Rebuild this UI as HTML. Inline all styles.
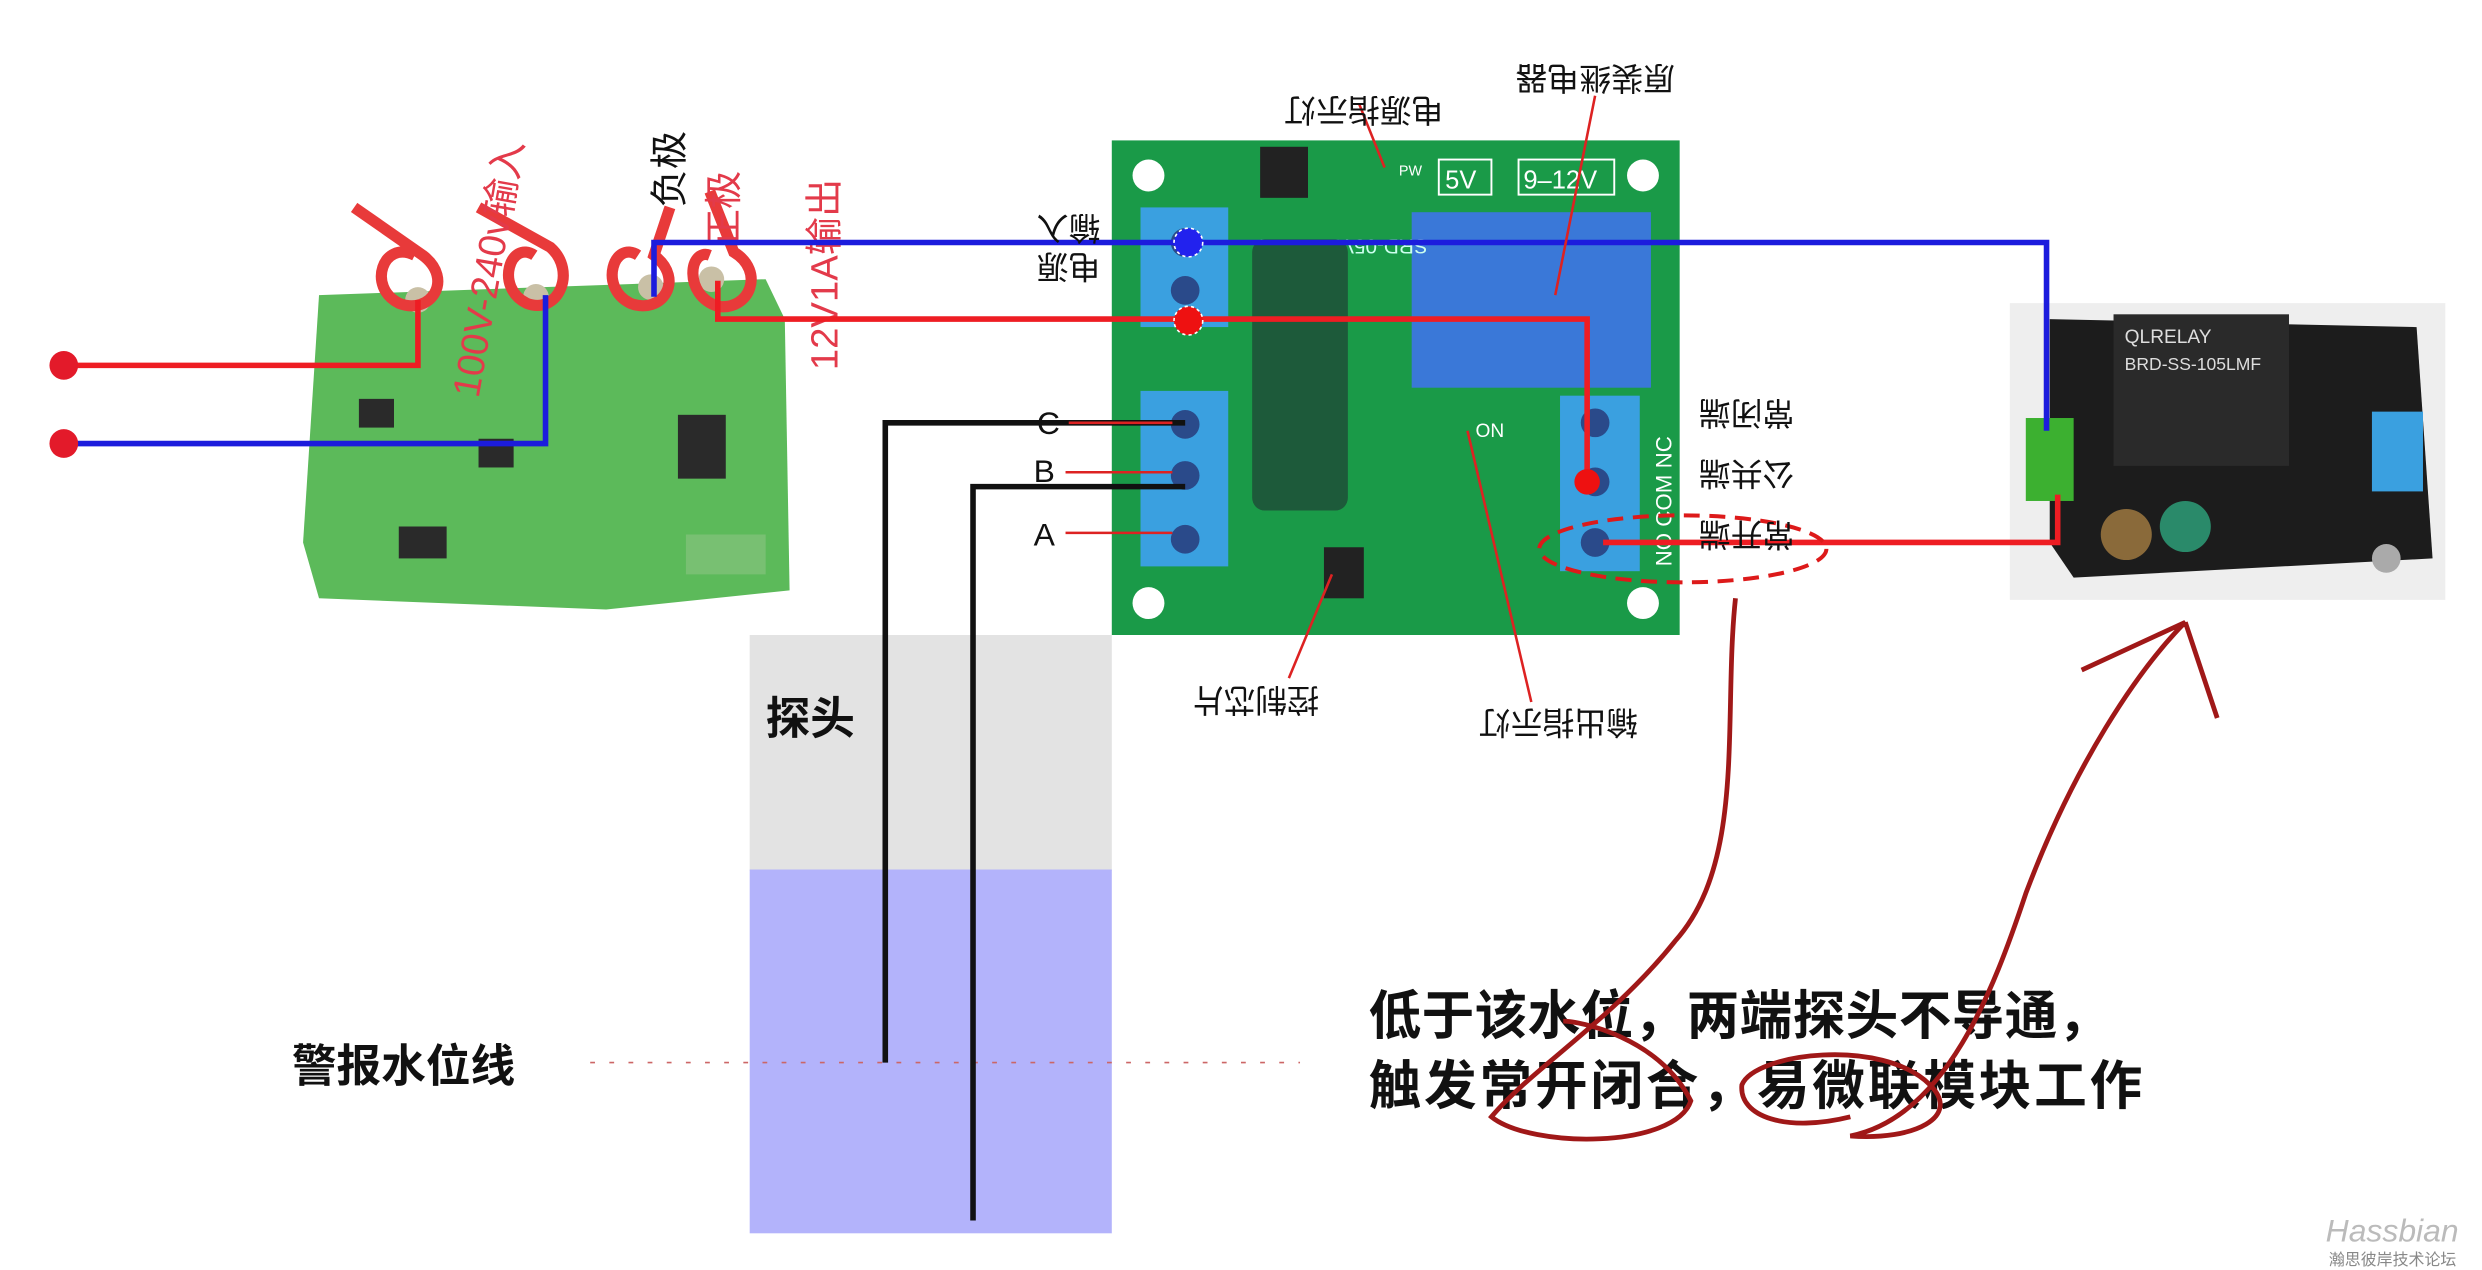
<!DOCTYPE html>
<html><head><meta charset="utf-8"><style>html,body{margin:0;padding:0;background:#fff;overflow:hidden}svg{display:block}</style></head><body>
<svg width="2482" height="1270" viewBox="0 0 1556 796" preserveAspectRatio="none" xmlns="http://www.w3.org/2000/svg" font-family="Liberation Sans, Noto Sans CJK SC, sans-serif">
<rect width="1556" height="796" fill="#fff"/>
<rect x="470" y="398" width="227" height="148" fill="#e3e3e3"/>
<rect x="470" y="545" width="227" height="228" fill="#b3b3fb"/>
<text x="480" y="460" font-size="28" font-weight="bold" fill="#111">探头</text>
<text x="183" y="678" font-size="28" font-weight="bold" fill="#111">警报水位线</text>
<line x1="370" y1="666" x2="815" y2="666" stroke="#c66" stroke-width="1" stroke-dasharray="3,9"/>
<path d="M200 185 L480 175 L492 200 L495 370 L380 382 L200 375 L190 340 Z" fill="#5cba5a"/>
<g fill="#2a2a2a"><rect x="225" y="250" width="22" height="18"/><rect x="300" y="275" width="22" height="18"/><rect x="425" y="260" width="30" height="40"/><rect x="250" y="330" width="30" height="20"/></g>
<g fill="#c9c0a6"><circle cx="262" cy="188" r="8"/><circle cx="336" cy="186" r="8"/><circle cx="408" cy="180" r="8"/><circle cx="446" cy="175" r="8"/><rect x="430" y="335" width="50" height="25" fill="#78c072"/></g>
<g fill="none" stroke="#e83a3a" stroke-width="7">
<path d="M260 160 C240 150 230 180 250 190 C270 198 285 175 265 160 L222 130"/>
<path d="M335 160 C320 150 310 180 330 190 C350 198 362 170 345 155 L300 130"/>
<path d="M400 160 C385 150 375 180 395 190 C415 198 430 175 410 160 L420 130"/>
<path d="M445 160 C432 155 428 185 450 192 C470 195 480 170 460 158 L445 120"/>
</g>
<g fill="#e33a4a" font-size="24">
<text transform="translate(300,250) rotate(-80)">100V-240v输入</text>
<text transform="translate(462,155) rotate(-90)">正极</text>
<text transform="translate(525,232) rotate(-90)">12V1A输出</text>
</g>
<text transform="translate(428,130) rotate(-90)" font-size="24" fill="#111">负极</text>
<rect x="697" y="88" width="356" height="310" fill="#1a9a48"/>
<g fill="#fff"><circle cx="720" cy="110" r="10"/><circle cx="1030" cy="110" r="10"/><circle cx="720" cy="378" r="10"/><circle cx="1030" cy="378" r="10"/></g>
<rect x="885" y="133" width="150" height="110" fill="#3a78d8"/>
<text x="1025" y="150" transform="rotate(180 960 150)" font-size="13" fill="#cfe">SRD-05VDC-SL-C</text>
<rect x="785" y="150" width="60" height="170" rx="8" fill="#1d5a3a"/>
<g fill="#3aa0e0"><rect x="715" y="130" width="55" height="75"/><rect x="715" y="245" width="55" height="110"/><rect x="978" y="248" width="50" height="110"/></g>
<g fill="#2a4a8a"><circle cx="743" cy="152" r="9"/><circle cx="743" cy="182" r="9"/><circle cx="743" cy="266" r="9"/><circle cx="743" cy="298" r="9"/><circle cx="743" cy="338" r="9"/><circle cx="1000" cy="265" r="9"/><circle cx="1000" cy="302" r="9"/><circle cx="1000" cy="340" r="9"/></g>
<rect x="790" y="92" width="30" height="32" fill="#222"/><rect x="830" y="343" width="25" height="32" fill="#222"/>
<g fill="none" stroke="#fff" stroke-width="1.2"><rect x="902" y="100" width="33" height="22"/><rect x="952" y="100" width="60" height="22"/></g>
<text x="906" y="118" font-size="16" fill="#fff">5V</text><text x="955" y="118" font-size="16" fill="#fff">9–12V</text>
<text x="877" y="110" font-size="9" fill="#fff">PW</text><text x="925" y="274" font-size="12" fill="#fff">ON</text>
<text transform="translate(1048,355) rotate(-90)" font-size="14" fill="#fff">NO COM NC</text>
<rect x="1260" y="190" width="273" height="186" fill="#eee"/>
<path d="M1285 200 L1515 205 L1525 350 L1300 362 L1285 340 Z" fill="#1c1c1c"/>
<rect x="1325" y="197" width="110" height="95" fill="#2a2a2a"/>
<text x="1332" y="215" font-size="12" fill="#ddd">QLRELAY</text><text x="1332" y="232" font-size="11" fill="#ddd">BRD-SS-105LMF</text>
<rect x="1270" y="262" width="30" height="52" fill="#3cb030"/><rect x="1487" y="258" width="32" height="50" fill="#3aa0e0"/>
<circle cx="1333" cy="335" r="16" fill="#8a6a3a"/><circle cx="1370" cy="330" r="16" fill="#2a8a6a"/>
<circle cx="1496" cy="350" r="9" fill="#aaa"/>
<g fill="none" stroke-width="3.5">
<path d="M40 229 H262 V188" stroke="#ee1d23"/>
<path d="M40 278 H342 V185" stroke="#1c1cdd"/>
<path d="M410 186 V152 H1283 V270 H1283" stroke="#1c1cdd"/>
<path d="M450 176 V200 H995 V302" stroke="#ee1d23"/>
<path d="M1005 340 H1290 V310" stroke="#ee1d23"/>
<path d="M555 666 V265 H743" stroke="#111"/>
<path d="M610 765 V305 H743" stroke="#111"/>
</g>
<circle cx="40" cy="229" r="9" fill="#e31a2a"/><circle cx="40" cy="278" r="9" fill="#e31a2a"/>
<circle cx="745" cy="152" r="9" fill="#2222ee" stroke="#fff" stroke-dasharray="2,2"/>
<circle cx="745" cy="201" r="9" fill="#ee1111" stroke="#fff" stroke-dasharray="2,2"/>
<circle cx="995" cy="302" r="8" fill="#ee1111"/>
<ellipse cx="1055" cy="344" rx="90" ry="21" fill="none" stroke="#dd1a1a" stroke-width="2.5" stroke-dasharray="10,6"/>
<g stroke="#dd2222" stroke-width="1.6" fill="#dd2222">
<line x1="670" y1="265" x2="735" y2="265"/><line x1="668" y1="296" x2="735" y2="296"/><line x1="668" y1="334" x2="735" y2="334"/>
<line x1="852" y1="65" x2="868" y2="105"/><line x1="1000" y1="60" x2="975" y2="185"/>
<line x1="808" y1="425" x2="835" y2="360"/><line x1="960" y1="440" x2="920" y2="270"/>
</g>
<g font-size="20" fill="#111">
<text x="650" y="272">C</text><text x="648" y="302">B</text><text x="648" y="342">A</text>
<text transform="translate(905,62) rotate(180)">电源指示灯</text>
<text transform="translate(1050,42) rotate(180)">原装继电器</text>
<text transform="translate(827,432) rotate(180)">控制芯片</text>
<text transform="translate(1027,446) rotate(180)">输出指示灯</text>
<text transform="translate(690,160) rotate(180)">电源</text>
<text transform="translate(690,136) rotate(180)">输入</text>
<text transform="translate(1125,252) rotate(180)">常闭端</text>
<text transform="translate(1125,290) rotate(180)">公共端</text>
<text transform="translate(1125,328) rotate(180)">常开端</text>
</g>
<g font-size="33" font-weight="bold" fill="#111">
<text x="858" y="648" textLength="465" lengthAdjust="spacing">低于该水位，两端探头不导通，</text>
<text x="858" y="692" textLength="485" lengthAdjust="spacing">触发常开闭合，易微联模块工作</text>
</g>
<g fill="none" stroke="#a01818" stroke-width="3">
<path d="M1088 375 C1080 450 1095 540 1050 590 C1010 640 960 670 935 700 C960 720 1050 720 1060 690 C1040 650 990 640 980 640"/>
<path d="M1160 700 C1120 710 1090 700 1092 680 C1100 660 1180 650 1210 680 C1230 700 1200 715 1160 712 C1220 700 1250 620 1270 560 C1300 480 1340 420 1370 390 L1305 420 M1370 390 L1390 450"/>
</g>
<text x="1458" y="778" font-size="20" font-style="italic" fill="#bbb">Hassbian</text>
<text x="1460" y="793" font-size="10" fill="#888">瀚思彼岸技术论坛</text>
</svg>
</body></html>
